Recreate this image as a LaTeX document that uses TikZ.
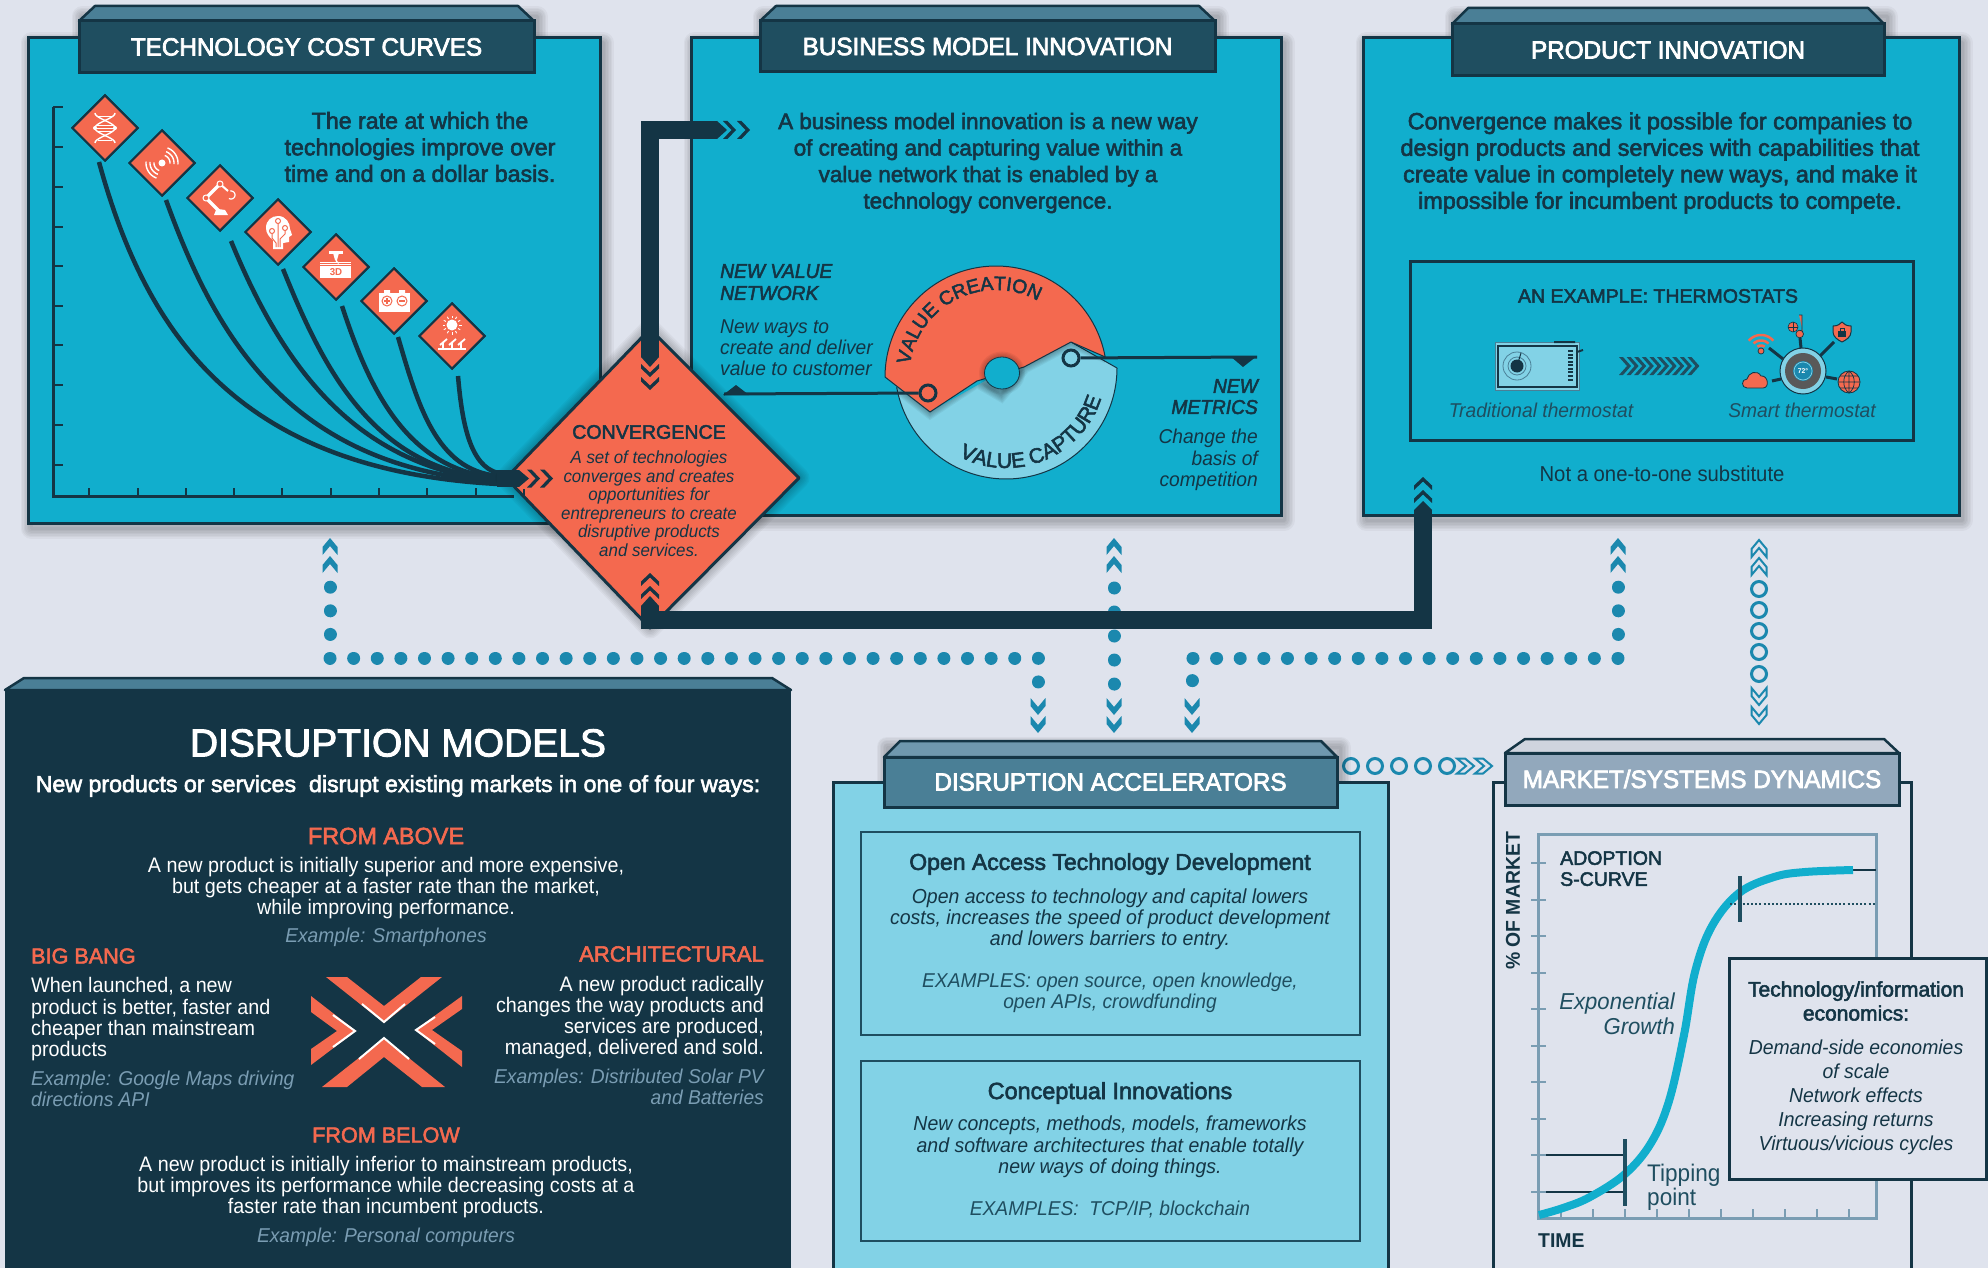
\documentclass[tikz,border=0pt]{standalone}
\usepackage{fontspec}
\usetikzlibrary{shapes.geometric,decorations.text,calc}
\newfontfamily\ftR[FakeStretch=0.94]{Liberation Sans}
\newfontfamily\ftH[FakeStretch=0.97,FakeBold=3]{Liberation Sans}
\newfontfamily\ftM[FakeStretch=1.0,FakeBold=2.5]{Liberation Sans}
\newfontfamily\ftB[FakeStretch=0.97]{Liberation Sans Bold}
\newfontfamily\ftI[FakeStretch=0.96]{Liberation Sans Italic}
\newfontfamily\ftMI[FakeStretch=0.96,FakeBold=2.5]{Liberation Sans Italic}
\definecolor{bg}{HTML}{DFE3ED}
\definecolor{teal}{HTML}{11AECD}
\definecolor{dk}{HTML}{143545}
\definecolor{hd}{HTML}{1F4E60}
\definecolor{coral}{HTML}{F4694F}
\definecolor{lb}{HTML}{82D2E6}
\definecolor{dotc}{HTML}{1B88AE}
\definecolor{steel}{HTML}{4A7F96}
\definecolor{steelt}{HTML}{6F98AE}
\definecolor{mk}{HTML}{92A8BC}
\definecolor{mkt}{HTML}{CFD4DE}
\definecolor{axisc}{HTML}{7A9DB3}
\newcommand\softsh[1]{\foreach \i in {1,...,7}{\draw[black,opacity=.035,line width=\i*3pt,line join=round,shift={(3,5)}] #1;}}
\newcommand\arcd[6][]{\draw[#1] plot[variable=\t,domain=#5:#6,samples=30] ({#2+#4*cos(\t)},{#3+#4*sin(\t)});}
\tikzset{
 panelst/.style={draw=dk,line width=3pt,anchor=north west,inner sep=0pt,outer sep=0pt},
 hdr/.style={draw=dk,line width=3pt,anchor=north west,inner sep=0pt,outer sep=0pt,text=white,font=\ftH\fontsize{25}{25}\selectfont},
 tR/.style 2 args={font=\ftR\fontsize{#1}{#2}\selectfont,inner sep=0pt,align=center,text=dk},
 tM/.style 2 args={font=\ftM\fontsize{#1}{#2}\selectfont,inner sep=0pt,align=center,text=dk},
 tB/.style 2 args={font=\ftB\fontsize{#1}{#2}\selectfont,inner sep=0pt,align=center,text=dk},
 tI/.style 2 args={font=\ftI\fontsize{#1}{#2}\selectfont,inner sep=0pt,align=center,text=dk},
 tMI/.style 2 args={font=\ftMI\fontsize{#1}{#2}\selectfont,inner sep=0pt,align=center,text=dk},
 smalld/.style={diamond,draw=dk,line width=2pt,fill=coral,minimum width=66pt,minimum height=66pt,inner sep=0pt},
 curve/.style={draw=dk,line width=4.5pt},
 bar/.style={draw=dk,line width=18pt,line join=miter},
 dots/.style={draw=dotc,line width=13pt,line cap=round,dash pattern=on 0.01pt off 23.6pt},
 ring/.style={draw=dotc,line width=3pt,fill=none},
 tick/.style={draw=dk,line width=1.6pt},
 ctick/.style={draw=axisc,line width=2pt},
 wl/.style={draw=white,line width=1.4pt},
 chd/.pic={\fill[dk] (0,-9)--(4.5,-9)--(13,0)--(4.5,9)--(0,9)--(8.5,0)--cycle;},
 chb/.pic={\fill[dotc] (0,-7.5)--(8,-7.5)--(17,0)--(8,7.5)--(0,7.5)--(9,0)--cycle;},
 chh/.pic={\draw[dotc,line width=2pt] (0,-7.5)--(8,-7.5)--(17,0)--(8,7.5)--(0,7.5)--(9,0)--cycle;},
 cht/.pic={\fill[hd] (0,-9)--(4,-9)--(12,0)--(4,9)--(0,9)--(8,0)--cycle;},
}
\begin{document}
\begin{tikzpicture}[x=1pt,y=-1pt]
\useasboundingbox (0,0) rectangle (1988,1268);
\clip (0,0) rectangle (1988,1268);
\fill[bg] (0,0) rectangle (1988,1268);

% shadows
\softsh{(28,38) rectangle (600,523)}
\softsh{(79,12) rectangle (534,73)}
\softsh{(691,38) rectangle (1281,515)}
\softsh{(760,12) rectangle (1215,73)}
\softsh{(1363,38) rectangle (1959,515)}
\softsh{(1452,12) rectangle (1884,76)}

% panels and headers
\node[panelst,fill=teal,minimum width=572pt,minimum height=485pt] (p1) at (28,38) {};
\draw[draw=dk,line width=2.5pt,fill=steel,line join=round] (79,21)--(95,6)--(518,6)--(534,21)--cycle;
\node[hdr,fill=hd,minimum width=455pt,minimum height=52pt] (h1) at (79,21) {TECHNOLOGY COST CURVES};

\node[panelst,fill=teal,minimum width=590pt,minimum height=477pt] (p2) at (691,38) {};
\draw[draw=dk,line width=2.5pt,fill=steel,line join=round] (760,21)--(776,6)--(1199,6)--(1215,21)--cycle;
\node[hdr,fill=hd,minimum width=455pt,minimum height=51pt] (h2) at (760,21) {BUSINESS MODEL INNOVATION};

\node[panelst,fill=teal,minimum width=596pt,minimum height=477pt] (p3) at (1363,38) {};
\draw[draw=dk,line width=2.5pt,fill=steel,line join=round] (1452,24)--(1468,8)--(1868,8)--(1884,24)--cycle;
\node[hdr,fill=hd,minimum width=432pt,minimum height=52pt] (h3) at (1452,24) {PRODUCT INNOVATION};

% panel 1 chart
\draw[dk,line width=3pt] (53,107)--(53,496)--(514,496);
\foreach \y in {107,147,187,227,266,306,345,385,425,465} \draw[tick] (53,\y)--(63,\y);
\foreach \x in {89,138,186,234,282,331,379,427,476} \draw[tick] (\x,496)--(\x,488);
\node[tM={23.2}{26.5}] (t1) at (420,147) {The rate at which the\\technologies improve over\\time and on a dollar basis.};

\node[smalld] (d1) at (105,128) {};
\node[smalld] (d2) at (162,163) {};
\node[smalld] (d3) at (220,198) {};
\node[smalld] (d4) at (278,232) {};
\node[smalld] (d5) at (336,267) {};
\node[smalld] (d6) at (394,301) {};
\node[smalld] (d7) at (452,336) {};
\coordinate (cvL) at (498,478);
\draw[curve] ([xshift=-6pt]d1.south) .. controls (145,330) and (235,470) .. ([yshift=-6pt]cvL);
\draw[curve] ([xshift=4pt,yshift=-3pt]d2.south) .. controls (218,344) and (294,467) .. ([yshift=-4pt]cvL);
\draw[curve] ([xshift=11pt,yshift=-9pt]d3.south) .. controls (278,355) and (348,466) .. ([yshift=-3pt]cvL);
\draw[curve] ([xshift=5pt,yshift=-3pt]d4.south) .. controls (326,376) and (376,469) .. ([yshift=-2pt]cvL);
\draw[curve] ([xshift=6pt,yshift=-5pt]d5.south) .. controls (368,385) and (405,470) .. (cvL);
\draw[curve] ([xshift=4pt,yshift=-2pt]d6.south) .. controls (418,405) and (436,470) .. ([yshift=2pt]cvL);
\draw[curve] ([xshift=6pt,yshift=-6pt]d7.south) .. controls (462,423) and (470,466) .. ([yshift=5pt]cvL);
\node[smalld] at (d1) {};
\node[smalld] at (d2) {};
\node[smalld] at (d3) {};
\node[smalld] at (d4) {};
\node[smalld] at (d5) {};
\node[smalld] at (d6) {};
\node[smalld] at (d7) {};

% icons in small diamonds
\begin{scope}[shift={(d1.center)}]
 \draw[wl] plot[variable=\t,domain=-15:15,samples=40] ({10*cos(12*\t)},{\t});
 \draw[wl] plot[variable=\t,domain=-15:15,samples=40] ({-10*cos(12*\t)},{\t});
 \foreach \y/\w in {-12/7,-3/8,0/10,3/8,12/7} \draw[white,line width=.8pt] (-\w,\y)--(\w,\y);
 \fill[white] (-10,0) circle[radius=2pt] (10,0) circle[radius=2pt];
\end{scope}
\begin{scope}[shift={(d2.center)}]
 \fill[white] (0,0) circle[radius=3.5pt];
 \foreach \r in {8,12,16}{\arcd[wl]{0}{0}{\r}{-70}{5}\arcd[wl]{0}{0}{\r}{110}{185}}
\end{scope}
\begin{scope}[shift={(d3.center)}]
 \fill[white] (-6,17)--(8,17)--(5,12)--(-2,11)--(-4,12)--cycle;
 \draw[white,line width=3.5pt] (-14,0)--(-1,13) (-14,0)--(0,-14);
 \draw[white,line width=2pt] (0,-14)--(8,-7);
 \draw[white,line width=1pt,fill=coral] (-14,0) circle[radius=3pt] (0,-14) circle[radius=3pt];
 \arcd[white,line width=1.2pt]{11}{-3}{4}{-100}{120}
\end{scope}
\begin{scope}[shift={(d4.center)}]
 \fill[white] (-5,17)--(-5,8) .. controls (-9,5) and (-12,1) .. (-12,-4) .. controls (-12,-12) and (-6,-16) .. (0,-16) .. controls (8,-16) and (12,-9) .. (12,-3) -- (14,3)--(11,5)--(11,10)--(5,11)--(5,17)--cycle;
 \draw[coral,line width=1pt] (0,-11)--(0,15) (-6,1)--(-6,6)--(-2,11)--(-2,15) (7,-3)--(7,2)--(2,7)--(2,15);
 \draw[coral,line width=1pt,fill=white] (0,-11) circle[radius=2.5pt] (-6,-1) circle[radius=2.5pt] (7,-4) circle[radius=2.5pt];
\end{scope}
\begin{scope}[shift={(d5.center)}]
 \draw[white,line width=3pt] (-7,-15)--(7,-15);
 \fill[white] (-3,-14)--(3,-14)--(1,-7)--(-1,-7)--cycle;
 \draw[white,line width=1.5pt] (0,-7)..controls(0,-5)and(2,-4)..(3,-4);
 \draw[white,line width=1pt] (-16,-5)--(15,-5);
 \fill[white] (-16,-3.5) rectangle (15,11);
 \fill[coral] (-16,-2.2) rectangle (15,-1.3);
 \node[font=\ftB\fontsize{10}{10}\selectfont,text=coral,inner sep=0pt] (d3t) at (0,5) {3D};
\end{scope}
\begin{scope}[shift={(d6.center)}]
 \fill[white] (-15,-8) rectangle (16,11);
 \fill[white] (-10,-11) rectangle (-4,-8) (5,-11) rectangle (11,-8);
 \draw[coral,line width=1pt] (-7,0) circle[radius=5pt] (8,0) circle[radius=5pt];
 \draw[coral,line width=1.2pt] (-10,0)--(-4,0) (-7,-3)--(-7,3) (5,0)--(11,0);
\end{scope}
\begin{scope}[shift={(d7.center)}]
 \fill[white] (0,-11) circle[radius=5.5pt];
 \foreach \a in {0,30,...,330} \draw[white,line width=.9pt] ({7*cos(\a)},{-11+7*sin(\a)})--({9.5*cos(\a)},{-11+9.5*sin(\a)});
 \draw[white,line width=1.2pt] (-14,13)--(14,13);
 \foreach \x in {-9,0,9}{\draw[white,line width=1.2pt] (\x,13)--(\x,6);\draw[white,line width=1.8pt] (\x-3,9)--(\x+4,3);}
\end{scope}

% panel 2 content
\node[tM={22.4}{26.5}] (t2) at (988,163) {A business model innovation is a new way\\of creating and capturing value within a\\value network that is enabled by a\\technology convergence.};
\node[tMI={20}{22},anchor=north west,align=left] (nv1) at (720,264) {NEW VALUE\\NETWORK};
\node[tI={20}{21},anchor=north west,align=left] (nv2) at (720,320) {New ways to\\create and deliver\\value to customer};
\node[tMI={20}{21},anchor=north east,align=right] (nm1) at (1258,379) {NEW\\METRICS};
\node[tI={20}{21.5},anchor=north east,align=right] (nm2) at (1258,429) {Change the\\basis of\\competition};

% wheel
\fill[lb] plot[variable=\t,domain=0:170,samples=80] ({1006+111*cos(\t)},{368+111*sin(\t)}) -- (930,412) -- (1001,372) -- (1071,342) -- cycle;
\draw[dk,line width=1pt] plot[variable=\t,domain=0:170,samples=80] ({1006+111*cos(\t)},{368+111*sin(\t)}) (1117,368)--(1071,342);
\begin{scope}
\clip plot[variable=\t,domain=0:170,samples=80] ({1006+111*cos(\t)},{368+111*sin(\t)}) -- (930,412) -- (1001,372) -- (1071,342) -- cycle;
\foreach \i in {1,...,6}{\draw[black,opacity=.05,line width=\i*2.2pt] (885,377)--(930,412)--(977,381)--(1001,395)--(1024,367)--(1071,342)--(1107,357);}
\end{scope}
\draw[fill=coral,draw=dk,line width=1pt,line join=round] plot[variable=\t,domain=-10.4:-180,samples=80] ({996+111*cos(\t)},{377+111*sin(\t)}) -- (930,412) -- (977,381) -- (1024,367) -- (1071,342) -- cycle;
\begin{scope}
\clip (1002,373) ellipse[x radius=40pt,y radius=40pt];
\foreach \i in {1,...,5}{\draw[black,opacity=.05,line width=\i*2.4pt] (1002,373) ellipse[x radius=17pt,y radius=15.5pt];}
\end{scope}
\draw[fill=teal,draw=dk,line width=.8pt] (1002,373) ellipse[x radius=17.5pt,y radius=16pt];
\path[decorate,decoration={text along path,text align=left,text={|\ftM\fontsize{19.3}{20}\selectfont\color{dk}|VALUE CREATION}}] plot[variable=\t,domain=-172:-50,samples=60] ({996+87*cos(\t)},{377+87*sin(\t)});
\path[decorate,decoration={text along path,text align=left,text={|\ftM\fontsize{21}{21}\selectfont\color{dk}|VALUE CAPTURE}}] plot[variable=\t,domain=118:0,samples=60] ({1006+100*cos(\t)},{368+100*sin(\t)});
\node[draw=dk,line width=3pt,circle,minimum size=16pt,inner sep=0pt] (nvr) at (928,393) {};
\node[draw=dk,line width=3pt,circle,minimum size=16pt,inner sep=0pt] (nmr) at (1071,358) {};
\coordinate (nvend) at (724,394);
\coordinate (nmend) at (1257,357);
\draw[dk,line width=3pt] (nvr) -- (nvend);
\draw[dk,line width=3pt] (nmr) -- (nmend);
\fill[dk] (723,395)--(749,395)--(736,385)--cycle;
\fill[dk] (1230,356)--(1257,356)--(1243,367)--cycle;

% panel 3 content
\node[tM={23.4}{26.5}] (t3) at (1660,163) {Convergence makes it possible for companies to\\design products and services with capabilities that\\create value in completely new ways, and make it\\impossible for incumbent products to compete.};
\node[draw=dk,line width=3pt,minimum width=503pt,minimum height=179pt,anchor=north west,inner sep=0pt] (ex) at (1409,260) {};
\node[tM={19.5}{20}] (ext) at (1658,296) {AN EXAMPLE: THERMOSTATS};
\node[tI={20}{20},text=hd] (ex1) at (1541,410) {Traditional thermostat};
\node[tI={20}{20},text=hd] (ex2) at (1802,410) {Smart thermostat};
\node[tR={21.6}{21.6}] (ex3) at (1662,474) {Not a one-to-one substitute};
% traditional thermostat
\draw[fill=lb,draw=steel,line width=1pt] (1495,342) rectangle (1579,390);
\draw[draw=dk,line width=2.5pt] (1498,346) rectangle (1577,387);
\draw[dk,line width=2pt] (1554,342)--(1575,342) (1577,352)--(1583,350);
\draw[steel,line width=.8pt] (1517,366) circle[radius=14pt];
\draw[steel,line width=.8pt] (1517,366) circle[radius=9pt];
\fill[dk] (1517,366) circle[radius=6.5pt];
\draw[dk,line width=1pt] (1517,366)--(1521,353);
\foreach \y in {351,354.5,358,361.5,365,368.5,372,375.5,379.5} \draw[dk,line width=2pt] (1568,\y)--(1573,\y);
\foreach \i in {0,...,9} \pic at ({1619+7.6*\i},366) {cht};
% smart thermostat
\draw[dk,line width=3pt] (1769,348)--(1783,359) (1800,338)--(1801,348) (1834,342)--(1820,356) (1772,381)--(1781,379) (1826,377)--(1837,379);
\draw[fill=lb,draw=dk,line width=1pt] (1803,371) circle[radius=23pt];
\fill[black!65] (1803,371) circle[radius=18pt];
\fill[dotc] (1803,371) circle[radius=10pt];
\draw[lb,line width=.7pt] (1803,371) circle[radius=9pt];
\node[font=\ftB\fontsize{7}{7}\selectfont,text=white,inner sep=0pt] (deg) at (1803,371) {72°};
\arcd[coral,line width=2.5pt]{1761}{351}{16}{-140}{-40}
\arcd[coral,line width=2.5pt]{1761}{351}{10.5}{-135}{-45}
\arcd[coral,line width=2.5pt]{1761}{351}{5.5}{-130}{-50}
\draw[fill=coral,draw=dk,line width=.7pt] (1761,351) circle[radius=3pt];
\draw[fill=coral,draw=dk,line width=.7pt] (1799,315)--(1802,315)--(1802,331)--(1803.5,334) arc[start angle=0,end angle=-360,radius=3.8pt];
\draw[fill=coral,draw=dk,line width=.6pt] (1793,327) circle[radius=5pt];
\draw[dk,line width=.6pt] (1788,327)--(1798,327) (1793,322)--(1793,332);
\draw[fill=coral,draw=dk,line width=1pt,line join=round] (1833,326)..controls(1838,326)and(1840,324)..(1842,322)..controls(1844,324)and(1846,326)..(1851,326)--(1851,332)..controls(1851,337)and(1846,340)..(1842,342)..controls(1838,340)and(1833,337)..(1833,332)--cycle;
\fill[dk] (1838,331) rectangle (1846,337);
\draw[dk,line width=1pt] (1840,331)--(1840,328)--(1844,328)--(1844,331);
\draw[fill=coral,draw=dk,line width=.8pt] (1747,388) .. controls (1741,388) and (1741,379) .. (1747,379) .. controls (1748,373) and (1757,369) .. (1761,376) .. controls (1768,375) and (1770,388) .. (1763,388) -- cycle;
\draw[fill=coral,draw=dk,line width=.8pt] (1849,382) circle[radius=11pt];
\draw[dk,line width=.7pt] (1838,382)--(1860,382) (1849,371)--(1849,393) (1840,376)--(1858,376) (1840,388)--(1858,388) (1849,371) .. controls (1842,376) and (1842,388) .. (1849,393) (1849,371) .. controls (1856,376) and (1856,388) .. (1849,393);

% dotted connectors (below the thick bars)
\coordinate (da1) at (330,587.2); \coordinate (da2) at (330,658); \coordinate (da3) at (1038,658); \coordinate (da4) at (1038,683);
\draw[dots] (da1)--(da2)--(da3)--(da4);
\coordinate (dc1) at (1618,587.2); \coordinate (dc2) at (1618,658); \coordinate (dc3) at (1192,658); \coordinate (dc4) at (1192,683);
\draw[dots] (dc1)--(dc2)--(dc3)--(dc4);
\coordinate (db1) at (1114,588); \coordinate (db2) at (1114,684.2);
\draw[dots,dash pattern=on 0.01pt off 24pt] (db1)--(db2);
\foreach \p in {(330,555),(330,573),(1114,555),(1114,573),(1618,555),(1618,573)} \pic[rotate=90] at \p {chb};
\foreach \p in {(1038,698),(1038,716),(1114,698),(1114,716),(1192,698),(1192,716)} \pic[rotate=-90] at \p {chb};
\foreach \y in {589,610,631,652,674} \draw[ring] (1759,\y) circle[radius=7.5pt];
\foreach \y in {557,575} \pic[rotate=90] at (1759,\y) {chh};
\foreach \y in {688,707} \pic[rotate=-90] at (1759,\y) {chh};
\foreach \x in {1351,1375,1399,1423,1447} \draw[ring] (\x,766) circle[radius=7.5pt];
\foreach \x in {1457,1475} \pic at (\x,766) {chh};

% convergence diamond
\coordinate (cT) at (650,329); \coordinate (cR) at (799,478); \coordinate (cB) at (650,628); \coordinate (cLL) at (506,478);
\softsh{(cT)--(cR)--(cB)--(cLL)--cycle}
\draw[fill=coral,draw=dk,line width=3pt,line join=round] (cT)--(cR)--(cB)--(cLL)--cycle;
\draw[tick] (524,489)--(524,497);
\node[tM={19.6}{20}] (ct) at (649,432) {CONVERGENCE};
\node[tI={17.6}{18.5}] (cx) at (649,503.5) {A set of technologies\\converges and creates\\opportunities for\\entrepreneurs to create\\disruptive products\\and services.};

% thick connectors
\coordinate (b1a) at (650,357); \coordinate (b1b) at (650,130); \coordinate (b1c) at (717,130);
\draw[bar] (b1a)--(b1b)--(b1c);
\fill[dk] (641,357)--(659,357)--(650,367)--cycle;
\fill[dk] (717,121)--(717,139)--(727,130)--cycle;
\pic at (723,130) {chd}; \pic at (737,130) {chd};
\pic[rotate=-90] at (650,364) {chd}; \pic[rotate=-90] at (650,377) {chd};
\coordinate (b2a) at (1423,510); \coordinate (b2b) at (1423,620); \coordinate (b2c) at (650,620); \coordinate (b2d) at (650,606);
\draw[bar] (b2a)--(b2b)--(b2c)--(b2d);
\fill[dk] (641,606)--(659,606)--(650,596)--cycle;
\fill[dk] (1414,510)--(1432,510)--(1423,501)--cycle;
\pic[rotate=90] at (650,599) {chd}; \pic[rotate=90] at (650,586) {chd};
\pic[rotate=90] at (1423,503) {chd}; \pic[rotate=90] at (1423,490) {chd};
\coordinate (b3a) at (497,478.5); \coordinate (b3b) at (519,478.5);
\draw[dk,line width=17pt] (b3a)--(b3b);
\fill[dk] (519,470)--(519,487)--(529,478.5)--cycle;
\pic at (527,478.5) {chd}; \pic at (540,478.5) {chd};

% disruption models
\fill[dk] (5,690) rectangle (791,1268);
\draw[fill=steel,draw=dk,line width=2.5pt,line join=round] (5,690)--(24,678)--(772,678)--(791,690)--cycle;
\node[tM={39}{39},text=white] (dm) at (398,743) {DISRUPTION MODELS};
\node[tM={23.2}{23},text=white] (dms) at (398,786) {New products or services\ \ disrupt existing markets in one of four ways:};
\node[tM={23.4}{23},text=coral] (fa) at (386,836) {FROM ABOVE};
\node[tR={21}{21},text=white] (fat) at (386,888) {A new product is initially superior and more expensive,\\but gets cheaper at a faster rate than the market,\\while improving performance.};
\node[tI={20}{20},text=axisc] (fae) at (386,937) {Example: Smartphones};
\node[tM={21.6}{23},text=coral,anchor=west] (bb) at (31,956) {BIG BANG};
\node[tR={21}{21.2},text=white,anchor=north west,align=left] (bbt) at (31,977.5) {When launched, a new\\product is better, faster and\\cheaper than mainstream\\products};
\node[tI={20}{20.5},text=axisc,anchor=north west,align=left] (bbe) at (31,1071) {Example: Google Maps driving\\directions API};
\node[tM={22}{23},text=coral,anchor=east] (ar) at (764,954) {ARCHITECTURAL};
\node[tR={21}{21},text=white,anchor=north east,align=right] (art) at (764,976) {A new product radically\\changes the way products and\\services are produced,\\managed, delivered and sold.};
\node[tI={20}{20.5},text=axisc,anchor=north east,align=right] (are) at (764,1069) {Examples: Distributed Solar PV\\and Batteries};
\node[tM={21.6}{23},text=coral] (fb) at (386,1135) {FROM BELOW};
\node[tR={21}{21},text=white] (fbt) at (386,1187) {A new product is initially inferior to mainstream products,\\but improves its performance while decreasing costs at a\\faster rate than incumbent products.};
\node[tI={20}{20},text=axisc] (fbe) at (386,1237) {Example: Personal computers};
% X
\fill[coral] (326,977)--(347,977)--(384,1006)--(421,977)--(442,977)--(384,1023)--cycle;
\fill[coral] (322,1087)--(347,1087)--(384,1057)--(422,1087)--(445,1087)--(384,1038)--cycle;
\fill[coral] (311,996)--(356,1031)--(311,1065)--(311,1049)--(337,1031)--(311,1012)--cycle;
\fill[coral] (462,996)--(415,1030)--(462,1067)--(462,1051)--(432,1030)--(462,1009)--cycle;
\draw[white,line width=2pt] (362,1004)--(384,1022)--(405,1004) (359,1059)--(384,1038)--(409,1059) (333,1015)--(355,1031)--(333,1047) (435,1017)--(416,1030)--(435,1044);

% accelerators
\softsh{(884,742) rectangle (1337,807)}
\node[panelst,fill=lb,minimum width=555pt,minimum height=500pt] (p4) at (833,782) {};
\draw[fill=steelt,draw=dk,line width=2.5pt,line join=round] (884,757)--(900,741)--(1321,741)--(1337,757)--cycle;
\node[hdr,fill=steel,minimum width=453pt,minimum height=50pt] (h4) at (884,757) {DISRUPTION ACCELERATORS};
\node[draw=hd,line width=2pt,minimum width=499pt,minimum height=203pt,anchor=north west,inner sep=0pt] (ab1) at (860,831) {};
\node[draw=hd,line width=2pt,minimum width=499pt,minimum height=180pt,anchor=north west,inner sep=0pt] (ab2) at (860,1060) {};
\node[tM={23}{23}] (a1) at (1110,864) {Open Access Technology Development};
\node[tI={20.3}{21},text=dk] (a1t) at (1110,919) {Open access to technology and capital lowers\\costs, increases the speed of product development\\and lowers barriers to entry.};
\node[tI={20}{21},text=hd] (a1e) at (1110,993) {EXAMPLES: open source, open knowledge,\\open APIs, crowdfunding};
\node[tM={23.4}{23}] (a2) at (1110,1093) {Conceptual Innovations};
\node[tI={20.3}{21.5},text=dk] (a2t) at (1110,1147) {New concepts, methods, models, frameworks\\and software architectures that enable totally\\new ways of doing things.};
\node[tI={20}{20},text=hd] (a2e) at (1110,1210) {EXAMPLES:\ \ TCP/IP, blockchain};

% market
\node[panelst,minimum width=418pt,minimum height=500pt] (p5) at (1493,782) {};
\draw[fill=mkt,draw=dk,line width=2.5pt,line join=round] (1505,753)--(1525,739)--(1884,739)--(1899,753)--cycle;
\node[hdr,fill=mk,minimum width=394pt,minimum height=52pt] (h5) at (1505,753) {MARKET/SYSTEMS DYNAMICS};
\draw[draw=axisc,line width=3pt] (1538,834) rectangle (1876,1218);
\foreach \y in {863,900,936,973,1009,1046,1082,1119,1155,1192} \draw[ctick] (1531,\y)--(1546,\y);
\foreach \x in {1561,1593,1625,1657,1689,1721,1753,1785,1817,1849} \draw[ctick] (\x,1218)--(\x,1209);
\draw[dk,line width=1.6pt] (1546,1155)--(1625,1155) (1546,1192)--(1625,1192);
\draw[dk,line width=1.6pt] (1853,870)--(1876,870);
\draw[teal,line width=8pt] plot[smooth,tension=.6] coordinates {(1539,1215)(1563,1208)(1590,1197)(1625,1174)(1651,1143)(1669,1101)(1684,1035)(1695,972)(1712,926)(1739,893)(1774,877)(1805,872)(1853,870)};
\draw[hd,line width=2.2pt,dash pattern=on 2pt off 2.2pt] (1730,904)--(1876,904);
\draw[hd,line width=4.5pt] (1625,1139)--(1625,1206) (1740,876)--(1740,922);
\node[tB={20}{20},rotate=90] (ym) at (1513,901) {\% OF MARKET};
\node[tM={19.5}{21},anchor=north west,align=left] (sc) at (1560,851) {ADOPTION\\S-CURVE};
\node[tI={23}{24.5},text=hd,anchor=north east,align=right] (eg) at (1675,993) {Exponential\\Growth};
\node[tR={24}{24},text=hd,anchor=north west,align=left] (tp) at (1647,1164) {Tipping\\point};
\node[tB={20}{20},anchor=west] (tm) at (1538,1241) {TIME};
\node[draw=dk,line width=3pt,fill=bg,minimum width=257pt,minimum height=221pt,anchor=north west,inner sep=0pt] (tb) at (1728,957) {};
\node[tM={21}{24}] (tb1) at (1856,1001) {Technology/information\\economics:};
\node[tI={20.2}{24}] (tb2) at (1856,1097) {Demand-side economies\\of scale\\Network effects\\Increasing returns\\Virtuous/vicious cycles};
\end{tikzpicture}
\end{document}
